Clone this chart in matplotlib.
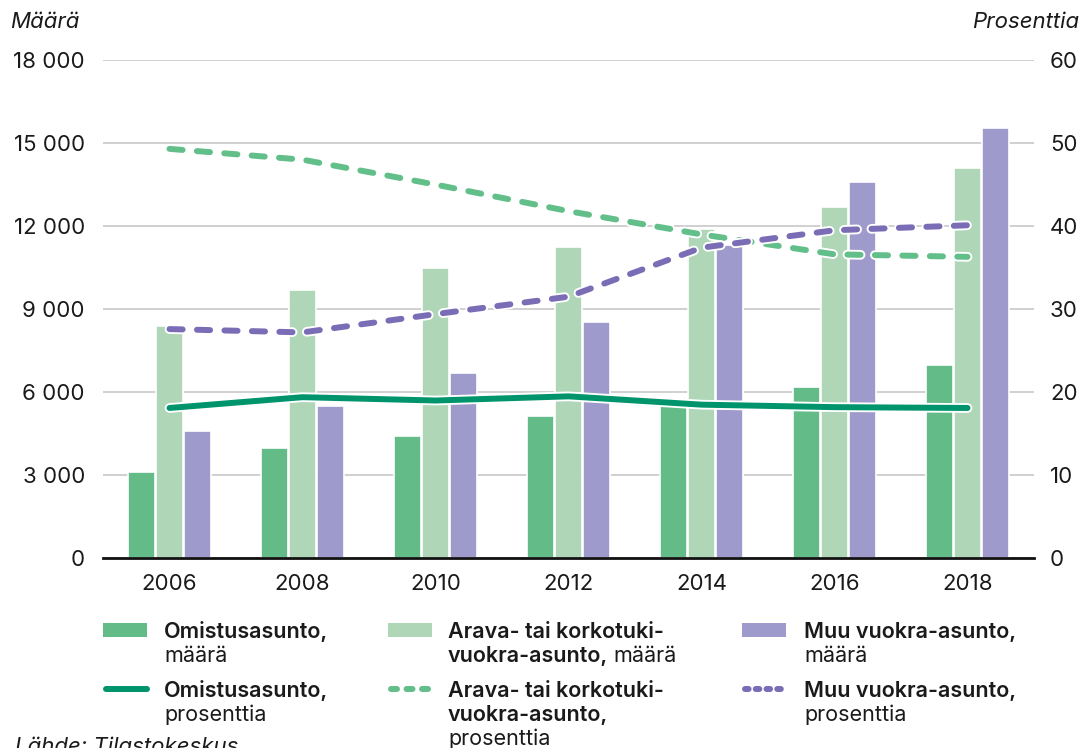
import numpy as np
import matplotlib
matplotlib.use("Agg")
import matplotlib.pyplot as plt
import matplotlib.patheffects as pe
from matplotlib.patches import Rectangle
from matplotlib.lines import Line2D

plt.rcParams["font.family"] = ["Inter", "DejaVu Sans"]

# --- data ---
years = ["2006", "2008", "2010", "2012", "2014", "2016", "2018"]
omistus_maara = [3100, 4000, 4400, 5150, 5500, 6200, 7000]
arava_maara = [8400, 9700, 10500, 11250, 11900, 12700, 14100]
muu_maara = [4600, 5500, 6700, 8550, 11300, 13600, 15550]
omistus_pros = [18.1, 19.4, 19.0, 19.5, 18.5, 18.2, 18.1]
arava_pros = [49.3, 48.0, 45.0, 41.8, 39.0, 36.6, 36.3]
muu_pros = [27.6, 27.2, 29.4, 31.5, 37.4, 39.5, 40.1]
left_ticks = [0, 3000, 6000, 9000, 12000, 15000, 18000]
right_ticks = [0, 10, 20, 30, 40, 50, 60]

C_OM = "#63BB88"
C_AR = "#AED6B7"
C_MU = "#9E9ACB"
C_OM_L = "#00946C"
C_AR_L = "#63BF8A"
C_MU_L = "#7A6DB6"
TXT = "#1a1a1a"

W, H = 1085, 748
fig = plt.figure(figsize=(W / 100, H / 100), dpi=100)

ax_l, ax_r_px, ax_t, ax_b = 103, 1034, 60, 558.3
ax = fig.add_axes([ax_l / W, 1 - ax_b / H, (ax_r_px - ax_l) / W, (ax_b - ax_t) / H])
ax2 = ax.twinx()

x = np.arange(len(years))
bw = 0.2
off = 0.21
ax.bar(x - off, omistus_maara, bw, color=C_OM, edgecolor="white", linewidth=1.2, zorder=2)
ax.bar(x, arava_maara, bw, color=C_AR, edgecolor="white", linewidth=1.2, zorder=2)
ax.bar(x + off, muu_maara, bw, color=C_MU, edgecolor="white", linewidth=1.2, zorder=2)

ax.set_xlim(-0.5, len(years) - 0.5)
ax.set_ylim(0, 18000)
ax.set_yticks(left_ticks)
ax.set_yticklabels([f"{v:,}".replace(",", " ") for v in left_ticks])
ax.set_xticks(x)
ax.set_xticklabels(years)
ax.yaxis.grid(True, color="#c8c8c8", linewidth=1.2, zorder=0)
ax.set_axisbelow(True)
ax.tick_params(axis="y", length=0, pad=13, labelsize=16, labelcolor=TXT)
ax.tick_params(axis="x", length=0, pad=11, labelsize=16, labelcolor=TXT)
for s in ["left", "right", "top"]:
    ax.spines[s].set_visible(False)
ax.spines["bottom"].set_color("#111111")
ax.spines["bottom"].set_linewidth(2)

# --- percentage lines on right axis ---
ax2.set_ylim(0, 60)
ax2.set_yticks(right_ticks)
ax2.tick_params(axis="y", length=0, pad=11.5, labelsize=16, labelcolor=TXT)
for s in ["left", "right", "top", "bottom"]:
    ax2.spines[s].set_visible(False)

stroke = [pe.Stroke(linewidth=7, foreground="white"), pe.Normal()]
lw = 4.3
ax2.plot(x, arava_pros, color=C_AR_L, lw=lw, dashes=(2.2, 2.4),
         dash_capstyle="round", solid_capstyle="round", path_effects=stroke, zorder=3)
ax2.plot(x, omistus_pros, color=C_OM_L, lw=lw, solid_capstyle="round",
         path_effects=stroke, zorder=3)
ax2.plot(x, muu_pros, color=C_MU_L, lw=lw, dashes=(2.2, 2.4),
         dash_capstyle="round", solid_capstyle="round", path_effects=stroke, zorder=4)

# axis titles
fig.text(10 / W, 1 - 28 / H, "Määrä", fontsize=16, style="italic", color=TXT, va="baseline")
fig.text(1079 / W, 1 - 28 / H, "Prosenttia", fontsize=16, style="italic", color=TXT,
         va="baseline", ha="right")

# --- legend drawn in pixel coordinates ---
lax = fig.add_axes([0, 0, 1, 1])
lax.set_xlim(0, W)
lax.set_ylim(H, 0)
lax.axis("off")

fs = 15.5
renderer = fig.canvas.get_renderer()

def put_lines(x0, y0, parts):
    # parts: list of lines, each a list of (text, weight)
    for i, line in enumerate(parts):
        xx = x0
        for txt, wt in line:
            t = lax.text(xx, y0 + i * 24, txt, fontsize=fs, fontweight=wt, color=TXT,
                         va="baseline", ha="left")
            bb = t.get_window_extent(renderer=renderer)
            xx += bb.width + 5

cols = [(103, 164), (388, 448), (742, 804)]
bar_colors = [C_OM, C_AR, C_MU]
line_colors = [C_OM_L, C_AR_L, C_MU_L]
row1 = [
    [[("Omistusasunto,", "semibold")], [("määrä", "normal")]],
    [[("Arava- tai korkotuki-", "semibold")], [("vuokra-asunto,", "semibold"), ("määrä", "normal")]],
    [[("Muu vuokra-asunto,", "semibold")], [("määrä", "normal")]],
]
row2 = [
    [[("Omistusasunto,", "semibold")], [("prosenttia", "normal")]],
    [[("Arava- tai korkotuki-", "semibold")], [("vuokra-asunto,", "semibold")], [("prosenttia", "normal")]],
    [[("Muu vuokra-asunto,", "semibold")], [("prosenttia", "normal")]],
]
line_dashes = [None, (1.0, 1.6), (0.6, 1.2)]
for i, (hx, tx) in enumerate(cols):
    lax.add_patch(Rectangle((hx, 623), 44, 14, color=bar_colors[i], lw=0))
    put_lines(tx, 638, row1[i])
    ln = Line2D([hx + 3, hx + 44], [689, 689], color=line_colors[i], lw=lw,
                solid_capstyle="round", dash_capstyle="round")
    if line_dashes[i] is not None:
        ln.set_dashes(line_dashes[i])
    lax.add_line(ln)
    put_lines(tx, 697, row2[i])

# source line, cut by the bottom edge as in the reference
lax.text(15, 753, "Lähde: Tilastokeskus", fontsize=16, style="italic", color=TXT,
         va="baseline", ha="left")

fig.savefig("out.png", dpi=100)
